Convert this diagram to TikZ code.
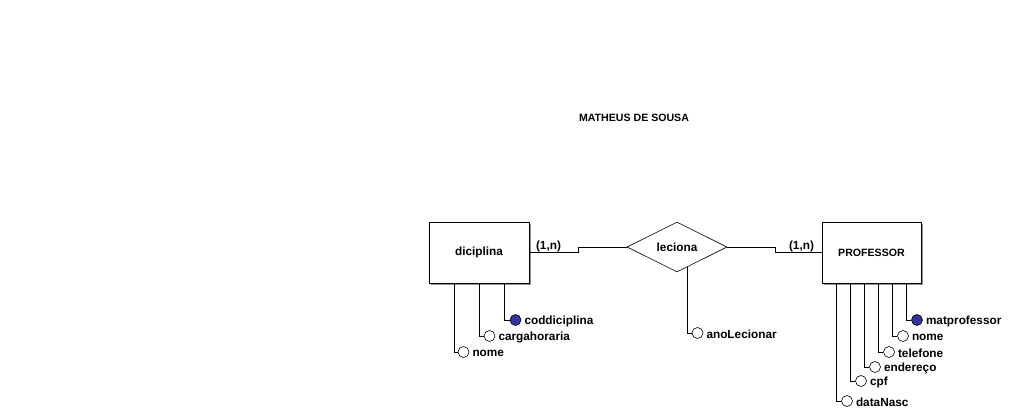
\documentclass[tikz,border=0pt]{standalone}
\usepackage{fontspec}
\setmainfont{Liberation Sans}
\usetikzlibrary{shapes.geometric}
\definecolor{keyblue}{RGB}{51,51,153}
\definecolor{shadowgray}{RGB}{150,150,150}
\tikzset{
  lowfont/.style={font=\bfseries\fontsize{11.8}{13}\selectfont},
  capfont/.style={font=\bfseries\fontsize{10.6}{12}\selectfont},
  ent/.style={draw, fill=white, line width=0.8pt, minimum width=100pt, minimum height=61pt, inner sep=0pt},
  rel/.style={draw, fill=white, diamond, aspect=2, minimum width=100pt, minimum height=50pt, inner sep=0pt, line width=0.6pt, lowfont},
  attr/.style={circle, draw, fill=white, minimum size=11pt, inner sep=0pt, line width=0.6pt},
  keyattr/.style={attr, fill=keyblue},
  lbl/.style={lowfont, inner sep=0pt, anchor=west},
  conn/.style={line width=0.7pt},
}
\begin{document}
\begin{tikzpicture}[x=1pt,y=-1pt]
\useasboundingbox[fill=white] (0,0) rectangle (1015,415);
\node[capfont] (title) at (634,118) {MATHEUS DE SOUSA};
% shadows
\fill[shadowgray] (431,224) rectangle (531,285);
\fill[shadowgray] (824,224) rectangle (923,285);
\node[ent, lowfont] (dic) at (479,252.5) {diciplina};
\node[ent, capfont, minimum width=99pt] (prof) at (871.5,252.5) {PROFESSOR};
\node[rel] (lec) at (677,247) {leciona};
% relationship connectors
\draw[conn] (dic.east) -- ++(49,0) |- (lec.west);
\draw[conn] (lec.east) -- ++(48,0) |- (prof.west);
\node[lbl, anchor=center] (c1) at (548.5,246) {(1,n)};
\node[lbl, anchor=center] (c2) at (801.5,246) {(1,n)};
% diciplina attributes
\node[keyattr] (cod) at (515.5,320) {};
\node[lbl] (codl) at ([xshift=3pt,yshift=-1pt]cod.east) {coddiciplina};
\node[attr] (carga) at (489.5,336) {};
\node[lbl] (cargal) at ([xshift=3pt,yshift=-1pt]carga.east) {cargahoraria};
\node[attr] (dnome) at (463.5,352) {};
\node[lbl] (dnomel) at ([xshift=3pt,yshift=-1pt]dnome.east) {nome};
\draw[conn] ([xshift=25pt]dic.south) |- (cod.west);
\draw[conn] (dic.south) |- (carga.west);
\draw[conn] ([xshift=-25pt]dic.south) |- (dnome.west);
% relationship attribute
\node[attr] (ano) at (697.5,333) {};
\node[lbl] (anol) at ([xshift=3pt,yshift=-1pt]ano.east) {anoLecionar};
\draw[conn] ([shift={(10pt,5pt)}]lec.south) |- (ano.west);
% professor attributes
\node[keyattr] (mat) at (917,320) {};
\node[lbl] (matl) at ([xshift=3pt,yshift=-1pt]mat.east) {matprofessor};
\node[attr] (pnome) at (903,336) {};
\node[lbl] (pnomel) at ([xshift=3pt,yshift=-1pt]pnome.east) {nome};
\node[attr] (tel) at (889,352) {};
\node[lbl] (tell) at ([xshift=3pt,yshift=-1pt]tel.east) {telefone};
\node[attr] (end) at (875,367) {};
\node[lbl] (endl) at ([xshift=3pt,yshift=-1pt]end.east) {endereço};
\node[attr] (cpf) at (861,381) {};
\node[lbl] (cpfl) at ([xshift=3pt,yshift=-1pt]cpf.east) {cpf};
\node[attr] (nasc) at (847,401) {};
\node[lbl] (nascl) at ([xshift=3pt,yshift=-1pt]nasc.east) {dataNasc};
\draw[conn] ([xshift=35pt]prof.south) |- (mat.west);
\draw[conn] ([xshift=21pt]prof.south) |- (pnome.west);
\draw[conn] ([xshift=7pt]prof.south) |- (tel.west);
\draw[conn] ([xshift=-7pt]prof.south) |- (end.west);
\draw[conn] ([xshift=-21pt]prof.south) |- (cpf.west);
\draw[conn] ([xshift=-35pt]prof.south) |- (nasc.west);
\end{tikzpicture}
\end{document}
